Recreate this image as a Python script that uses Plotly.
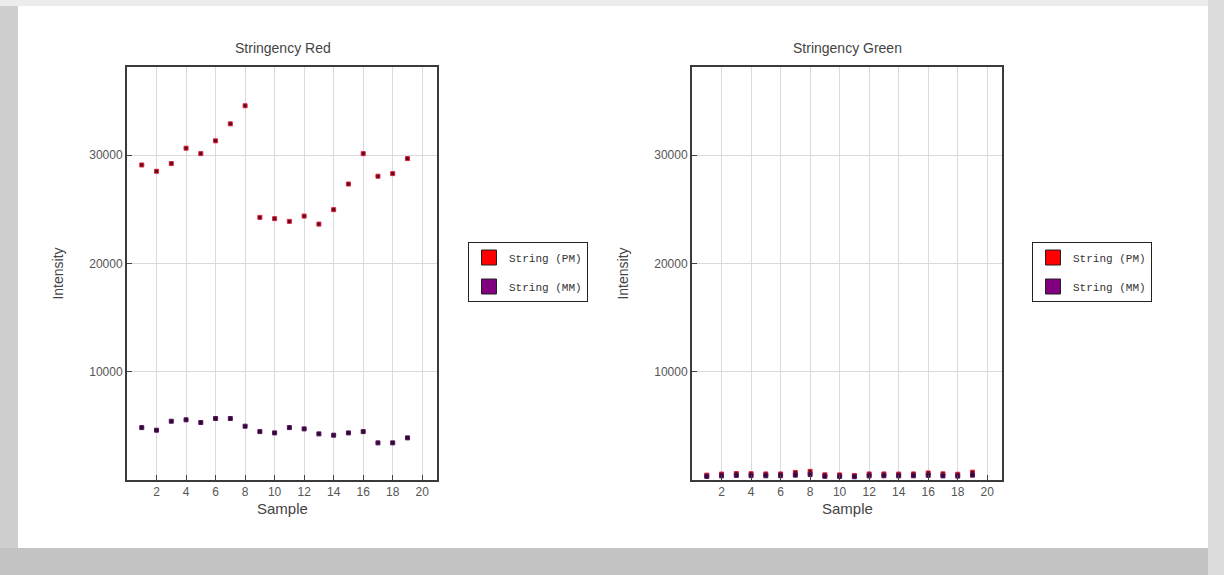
import plotly.graph_objects as go

samples = list(range(1, 20))
red_pm = [29100, 28520, 29230, 30650, 30150, 31330, 32900, 34570, 24260, 24140,
          23890, 24380, 23640, 24970, 27340, 30150, 28060, 28300, 29690]
red_mm = [4840, 4600, 5430, 5560, 5310, 5680, 5680, 4970, 4470, 4350,
          4840, 4720, 4260, 4140, 4350, 4470, 3430, 3430, 3890]
green_pm = [450, 550, 600, 580, 560, 560, 700, 800, 480, 470,
            420, 560, 560, 550, 560, 650, 570, 530, 720]
green_mm = [330, 380, 420, 400, 390, 400, 450, 500, 340, 330,
            300, 380, 390, 380, 390, 430, 380, 360, 450]
x_ticks = [2, 4, 6, 8, 10, 12, 14, 16, 18, 20]
y_ticks = [10000, 20000, 30000]
series_names = ["String (PM)", "String (MM)"]

W, H = 1224, 575
def fx(px):
    return px / W
def fy(py):
    return 1 - py / H

fig = go.Figure()

pm_marker = dict(symbol="square", size=4, color="#5a0818", line=dict(color="#e0203c", width=1))
mm_marker = dict(symbol="square", size=4, color="#2a0a2e", line=dict(color="#5a1060", width=1))

fig.add_trace(go.Scatter(x=samples, y=red_mm, mode="markers", marker=mm_marker,
                         showlegend=False, xaxis="x", yaxis="y"))
fig.add_trace(go.Scatter(x=samples, y=red_pm, mode="markers", marker=pm_marker,
                         showlegend=False, xaxis="x", yaxis="y"))
fig.add_trace(go.Scatter(x=samples, y=green_pm, mode="markers", marker=pm_marker,
                         showlegend=False, xaxis="x2", yaxis="y2"))
fig.add_trace(go.Scatter(x=samples, y=green_mm, mode="markers", marker=mm_marker,
                         showlegend=False, xaxis="x2", yaxis="y2"))

# legend-only entries
for lg in ["legend", "legend2"]:
    for i, (name, col) in enumerate(zip(series_names, ["#ff0000", "#800080"])):
        fig.add_trace(go.Scatter(x=[None], y=[None], mode="markers", name=name,
                                 legendgroup=f"{lg}_{i}",
                                 marker=dict(symbol="square", size=15, color=col,
                                             line=dict(color="#222", width=1)),
                                 legend=lg, xaxis="x", yaxis="y"))

axis_common = dict(showline=True, linecolor="#3a3a3a", linewidth=2, mirror=True,
                   showgrid=True, gridcolor="#dadada", gridwidth=1, zeroline=False,
                   ticks="inside", ticklen=5, tickcolor="#444", tickwidth=1,
                   tickformat="d",
                   tickfont=dict(family="Liberation Sans, Arial", size=12, color="#555"))

title_font_x = dict(family="Liberation Sans, Arial", size=15, color="#444")
title_font_y = dict(family="Liberation Sans, Arial", size=14, color="#444")
legend_font = dict(family="Liberation Mono, Courier New", size=11, color="#333")

fig.update_layout(
    width=W, height=H,
    margin=dict(l=0, r=0, t=0, b=0),
    paper_bgcolor="white", plot_bgcolor="white",
    xaxis=dict(domain=[fx(127), fx(437)], range=[0, 21], tickvals=x_ticks, anchor="y",
               **axis_common),
    yaxis=dict(domain=[fy(480), fy(67)], range=[0, 38150], tickvals=y_ticks, anchor="x",
               title=dict(text="Intensity", font=title_font_y, standoff=22),
               **axis_common),
    xaxis2=dict(domain=[fx(692), fx(1002)], range=[0, 21], tickvals=x_ticks, anchor="y2",
                **axis_common),
    yaxis2=dict(domain=[fy(480), fy(67)], range=[0, 38150], tickvals=y_ticks, anchor="x2",
                title=dict(text="Intensity", font=title_font_y, standoff=22),
                **axis_common),
    legend=dict(x=fx(468), y=fy(242), xanchor="left", yanchor="top",
                bgcolor="white", bordercolor="#222", borderwidth=1,
                font=legend_font, traceorder="grouped",
                tracegroupgap=10, itemwidth=30),
    legend2=dict(x=fx(1032), y=fy(242), xanchor="left", yanchor="top",
                 bgcolor="white", bordercolor="#222", borderwidth=1,
                 font=legend_font, traceorder="grouped",
                 tracegroupgap=10, itemwidth=30),
    annotations=[
        dict(text="Stringency Red", x=fx(283), y=fy(48), xref="paper", yref="paper",
             xanchor="center", yanchor="middle",
             showarrow=False, font=dict(family="Liberation Sans, Arial", size=14, color="#444")),
        dict(text="Stringency Green", x=fx(847), y=fy(48), xref="paper", yref="paper",
             xanchor="center", yanchor="middle",
             showarrow=False, font=dict(family="Liberation Sans, Arial", size=14, color="#444")),
        dict(text="Sample", x=fx(282), y=fy(508), xref="paper", yref="paper",
             xanchor="center", yanchor="middle", showarrow=False, font=title_font_x),
        dict(text="Sample", x=fx(847), y=fy(508), xref="paper", yref="paper",
             xanchor="center", yanchor="middle", showarrow=False, font=title_font_x),
    ],
    shapes=[
        dict(type="rect", xref="paper", yref="paper", x0=0, x1=fx(18), y0=0, y1=1,
             fillcolor="#cfcfcf", line=dict(width=0), layer="below"),
        dict(type="rect", xref="paper", yref="paper", x0=0, x1=1, y0=0, y1=fy(548),
             fillcolor="#c4c4c4", line=dict(width=0), layer="below"),
        dict(type="rect", xref="paper", yref="paper", x0=0, x1=1, y0=fy(6), y1=1,
             fillcolor="#ececec", line=dict(width=0), layer="below"),
        dict(type="rect", xref="paper", yref="paper", x0=fx(1208), x1=1, y0=0, y1=1,
             fillcolor="#dcdcdc", line=dict(width=0), layer="below"),
    ],
)

fig.write_html("out.html")
